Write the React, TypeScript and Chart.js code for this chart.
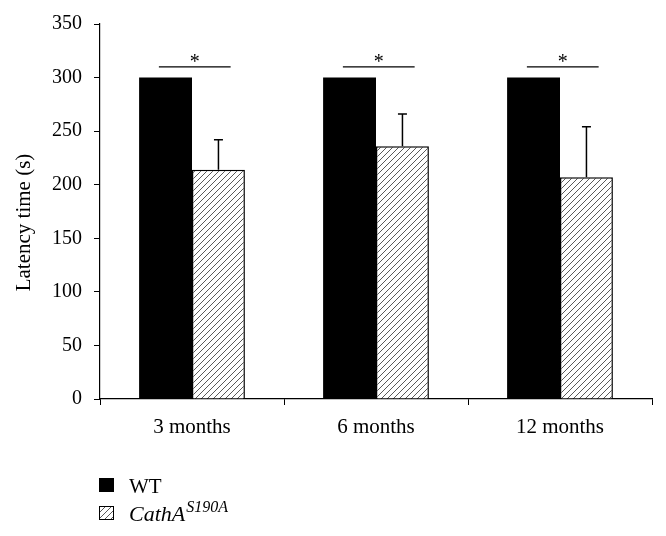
import React, { useEffect, useRef } from "react";
import { Chart, registerables } from "chart.js";

Chart.register(...registerables);

const categories = ["3 months", "6 months", "12 months"];
const wtValues = [300, 300, 300];
const cathValues = [214, 236, 207];
const cathErrors = [28, 30, 47];
const significanceLevels = [310, 310, 310];
const significanceMarks = ["*", "*", "*"];
const yMin = 0;
const yMax = 350;
const yStep = 50;
const wtLabel = "WT";
const cathLabel = "CathA";
const cathSuperscript = "S190A";
const yTitle = "Latency time (s)";

const FONT = "'Liberation Serif', 'Times New Roman', serif";

function makeHatch(period: number, color: string): CanvasPattern | string {
  const c = document.createElement("canvas");
  c.width = period;
  c.height = period;
  const g = c.getContext("2d");
  if (!g) return "#fff";
  g.fillStyle = "#fff";
  g.fillRect(0, 0, period, period);
  g.strokeStyle = color;
  g.lineWidth = 1;
  g.beginPath();
  g.moveTo(0, period);
  g.lineTo(period, 0);
  g.moveTo(-1, 1);
  g.lineTo(1, -1);
  g.moveTo(period - 1, period + 1);
  g.lineTo(period + 1, period - 1);
  g.stroke();
  const p = g.createPattern(c, "repeat");
  return p || "#fff";
}

const errorBarPlugin = {
  id: "errorBars",
  afterDatasetsDraw(chart: any) {
    const ctx = chart.ctx;
    const y = chart.scales.y;
    chart.data.datasets.forEach((ds: any, di: number) => {
      const errs = ds.errors;
      if (!errs) return;
      const meta = chart.getDatasetMeta(di);
      meta.data.forEach((bar: any, i: number) => {
        const e = errs[i];
        if (!e) return;
        const x = bar.x;
        const top = y.getPixelForValue(ds.data[i] + e);
        ctx.save();
        ctx.strokeStyle = "#000";
        ctx.lineWidth = 1.5;
        ctx.beginPath();
        ctx.moveTo(x, bar.y);
        ctx.lineTo(x, top);
        ctx.moveTo(x - 4.5, top);
        ctx.lineTo(x + 4.5, top);
        ctx.stroke();
        ctx.restore();
      });
    });
  },
};

const significancePlugin = {
  id: "significance",
  afterDatasetsDraw(chart: any) {
    const ctx = chart.ctx;
    const xs = chart.scales.x;
    const ys = chart.scales.y;
    const w = xs.getPixelForValue(1) - xs.getPixelForValue(0);
    significanceLevels.forEach((lvl, i) => {
      const xc = xs.getPixelForValue(i);
      const x0 = xc - 0.18 * w;
      const x1 = xc + 0.21 * w;
      const yp = ys.getPixelForValue(lvl);
      ctx.save();
      ctx.strokeStyle = "#000";
      ctx.lineWidth = 1.3;
      ctx.beginPath();
      ctx.moveTo(x0, yp);
      ctx.lineTo(x1, yp);
      ctx.stroke();
      ctx.fillStyle = "#000";
      ctx.font = `20px ${FONT}`;
      ctx.textAlign = "center";
      ctx.textBaseline = "alphabetic";
      ctx.fillText(significanceMarks[i], (x0 + x1) / 2, yp + 1);
      ctx.restore();
    });
  },
};

const titleAndLegendPlugin = {
  id: "customLegend",
  afterDraw(chart: any) {
    const ctx = chart.ctx;
    const hatch = chart.data.datasets[1].backgroundColor;
    const area = chart.chartArea;
    ctx.save();
    // y-axis title
    ctx.save();
    ctx.translate(24, (area.top + area.bottom) / 2 + 11);
    ctx.rotate(-Math.PI / 2);
    ctx.fillStyle = "#000";
    ctx.font = `21px ${FONT}`;
    ctx.textAlign = "center";
    ctx.textBaseline = "middle";
    ctx.fillText(yTitle, 0, 0);
    ctx.restore();
    // WT
    ctx.fillStyle = "#000";
    ctx.fillRect(99, 478, 15, 14);
    ctx.font = `21px ${FONT}`;
    ctx.textBaseline = "alphabetic";
    ctx.textAlign = "left";
    ctx.fillText(wtLabel, 129, 493);
    // CathA
    ctx.fillStyle = hatch;
    ctx.fillRect(99, 506, 15, 14);
    ctx.strokeStyle = "#000";
    ctx.lineWidth = 1;
    ctx.strokeRect(99.5, 506.5, 14, 13);
    ctx.fillStyle = "#000";
    ctx.font = `italic 22px ${FONT}`;
    ctx.fillText(cathLabel, 129, 521);
    const w = ctx.measureText(cathLabel).width;
    ctx.font = `italic 16px ${FONT}`;
    ctx.fillText(cathSuperscript, 129 + w + 1, 512);
    ctx.restore();
  },
};

export default function App() {
  const ref = useRef<HTMLCanvasElement | null>(null);

  useEffect(() => {
    if (!ref.current) return;
    const hatch = makeHatch(6, "#5a5a5a");
    const chart = new Chart(ref.current, {
      type: "bar",
      data: {
        labels: categories,
        datasets: [
          {
            label: wtLabel,
            data: wtValues,
            backgroundColor: "#000",
            borderWidth: 0,
            categoryPercentage: 0.575,
            barPercentage: 1,
          } as any,
          {
            label: cathLabel + cathSuperscript,
            data: cathValues,
            errors: cathErrors,
            backgroundColor: hatch,
            borderColor: "#000",
            borderWidth: 1.5,
            categoryPercentage: 0.575,
            barPercentage: 1,
          } as any,
        ],
      },
      options: {
        responsive: false,
        animation: false,
        devicePixelRatio: 1,
        layout: { padding: { top: 23, right: 14, bottom: 0, left: 0 } },
        plugins: {
          legend: { display: false },
          tooltip: { enabled: false },
        },
        scales: {
          x: {
            grid: {
              display: true,
              offset: true,
              drawOnChartArea: false,
              drawTicks: true,
              tickLength: 6,
              color: "#000",
            },
            border: { display: true, color: "#000", width: 1.2 },
            ticks: {
              color: "#000",
              font: { family: FONT, size: 21 },
              padding: 10,
            },
            afterFit: (s: any) => {
              s.height = 137;
            },
          },
          y: {
            min: yMin,
            max: yMax,
            grid: {
              display: true,
              drawOnChartArea: false,
              drawTicks: true,
              tickLength: 6,
              color: "#000",
            },
            border: { display: true, color: "#000", width: 1.2 },
            ticks: {
              stepSize: yStep,
              color: "#000",
              font: { family: FONT, size: 20 },
              padding: 12,
            },
            title: { display: false },
            afterFit: (s: any) => {
              s.width = 100;
            },
          },
        },
      },
      plugins: [errorBarPlugin, significancePlugin, titleAndLegendPlugin],
    });
    return () => chart.destroy();
  }, []);

  return (
    <div style={{ position: "absolute", left: 0, top: 0, width: 666, height: 536, background: "#fff" }}>
      <canvas ref={ref} width={666} height={536} style={{ width: 666, height: 536, display: "block" }} />
    </div>
  );
}
